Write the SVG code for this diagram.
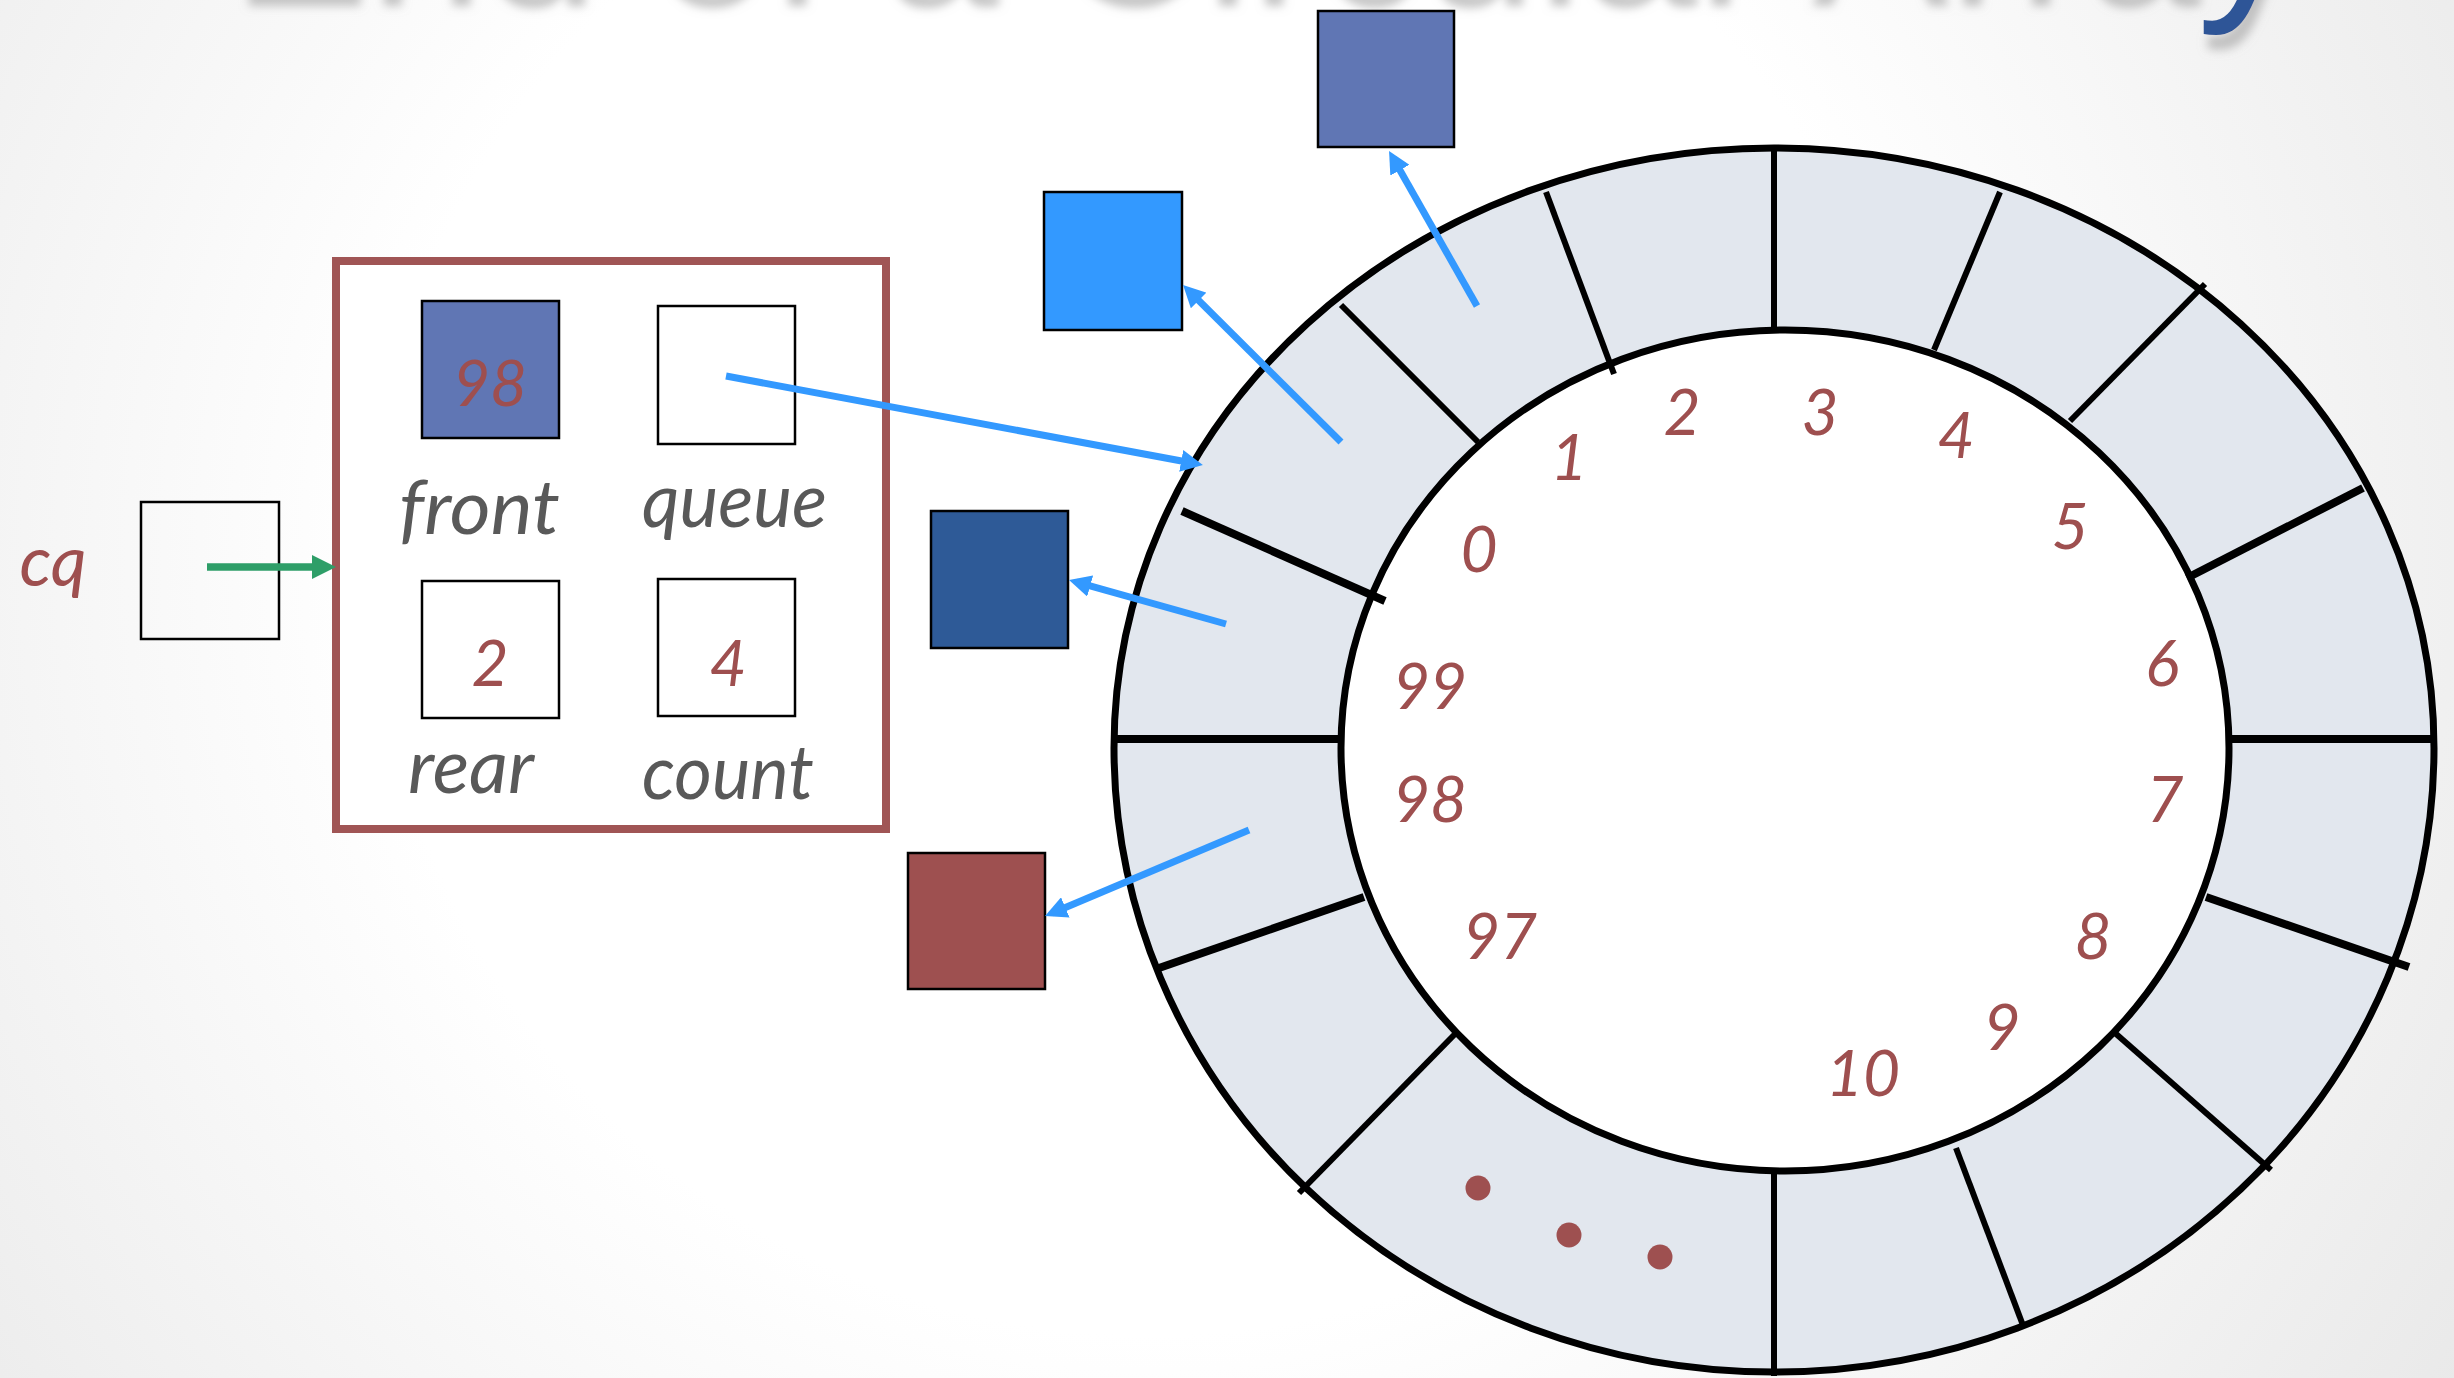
<svg xmlns="http://www.w3.org/2000/svg" width="2454" height="1378" viewBox="0 0 2454 1378">
<defs>
<radialGradient id="bg" gradientUnits="userSpaceOnUse" cx="1150" cy="560" r="1550">
<stop offset="0" stop-color="#FFFFFF"/>
<stop offset="0.5" stop-color="#FFFFFF"/>
<stop offset="1" stop-color="#E9E9E9"/>
</radialGradient>
<filter id="shadow" x="-5%" y="-50%" width="110%" height="200%">
<feGaussianBlur in="SourceAlpha" stdDeviation="5"/>
<feOffset dx="4" dy="15" result="b"/>
<feFlood flood-color="#A0A0A0" flood-opacity="0.6"/>
<feComposite in2="b" operator="in" result="s"/>
<feMerge><feMergeNode in="s"/><feMergeNode in="SourceGraphic"/></feMerge>
</filter>
<marker id="blueHead" markerUnits="userSpaceOnUse" viewBox="0 0 22 22" refX="14" refY="11" markerWidth="22" markerHeight="22" orient="auto">
<path d="M0,0 L22,11 L0,22 Z" fill="#3399FF"/>
</marker>
<marker id="greenHead" markerUnits="userSpaceOnUse" viewBox="0 0 24 24" refX="16" refY="12" markerWidth="24" markerHeight="24" orient="auto">
<path d="M0,0 L24,12 L0,24 Z" fill="#2E9E68"/>
</marker>
</defs>
<style>
.title{font-family:"Liberation Sans","DejaVu Sans",sans-serif;font-size:210px;fill:#2F5597}
.num{font-family:Lato,"Liberation Sans",sans-serif;font-style:italic;font-size:64px;fill:#9E4F4F;text-anchor:middle}
.lbl{font-family:Lato,"Liberation Sans",sans-serif;font-style:italic;font-size:76px;fill:#595959}
.box{stroke:#000;stroke-width:2.5}
.spoke{stroke:#000;stroke-width:6;fill:none}
.thick{stroke-width:8}
.blue{stroke:#3399FF;stroke-width:7;fill:none;marker-end:url(#blueHead)}
.dot{fill:#9E5050}
</style>
<rect width="2454" height="1378" fill="url(#bg)"/>
<text class="title" x="228" y="-9" textLength="2072" lengthAdjust="spacingAndGlyphs" filter="url(#shadow)">End of a Circular Array</text>

<g id="ring">
<path d="M1114,748 A660,600 0 0 1 1774,148 A660,600 0 0 1 2434,748 A660,624 0 0 1 1774,1372 A660,624 0 0 1 1114,748 Z" fill="#E2E7EE" stroke="#000" stroke-width="7"/>
<path d="M1341,748 A444,418 0 0 1 1785,330 A444,418 0 0 1 2229,748 A444,423 0 0 1 1785,1171 A444,423 0 0 1 1341,748 Z" fill="#FFFFFF" stroke="#000" stroke-width="7"/>
<line class="spoke" x1="1774" y1="150" x2="1774" y2="328"/>
<line class="spoke" x1="1546" y1="192" x2="1614" y2="374"/>
<line class="spoke" x1="1341" y1="305" x2="1478" y2="442"/>
<line class="spoke thick" x1="1182" y1="511" x2="1385" y2="601"/>
<line class="spoke thick" x1="1116" y1="739" x2="1341" y2="739"/>
<line class="spoke thick" x1="2229" y1="739" x2="2432" y2="739"/>
<line class="spoke" x1="2000" y1="192" x2="1934" y2="350"/>
<line class="spoke" x1="2205" y1="284" x2="2070" y2="421"/>
<line class="spoke thick" x1="2363" y1="488" x2="2187" y2="578"/>
<line class="spoke thick" x1="1364" y1="897" x2="1159" y2="968"/>
<line class="spoke" x1="1455" y1="1034" x2="1299" y2="1193"/>
<line class="spoke" x1="1774" y1="1171" x2="1774" y2="1376"/>
<line class="spoke" x1="1956" y1="1148" x2="2024" y2="1328"/>
<line class="spoke" x1="2115" y1="1033" x2="2271" y2="1170"/>
<line class="spoke thick" x1="2206" y1="897" x2="2409" y2="967"/>
<circle class="dot" cx="1478" cy="1188" r="12.5"/>
<circle class="dot" cx="1569" cy="1235" r="12.5"/>
<circle class="dot" cx="1660" cy="1257" r="12.5"/>
<text class="num" x="1479" y="572">0</text>
<text class="num" x="1569" y="480">1</text>
<text class="num" x="1682" y="435">2</text>
<text class="num" x="1820" y="435">3</text>
<text class="num" x="1956" y="458">4</text>
<text class="num" x="2070" y="549">5</text>
<text class="num" x="2162" y="686">6</text>
<text class="num" x="2165" y="822">7</text>
<text class="num" x="2093" y="959">8</text>
<text class="num" x="2002" y="1050">9</text>
<text class="num" x="1863" y="1096">10</text>
<text class="num" x="1500" y="959">97</text>
<text class="num" x="1430" y="822">98</text>
<text class="num" x="1430" y="709">99</text>
</g>

<g id="cq">
<text class="num" x="53" y="586" style="font-size:70px">cq</text>
<rect class="box" x="141" y="502" width="138" height="137" fill="none"/>
</g>

<g id="struct">
<rect x="336" y="261" width="550" height="568" fill="#FFFFFF" stroke="#A05555" stroke-width="8"/>
<rect class="box" x="422" y="301" width="137" height="137" fill="#6076B4"/>
<text class="num" x="490" y="406">98</text>
<text class="lbl" x="399" y="534" textLength="161" lengthAdjust="spacingAndGlyphs">front</text>
<rect class="box" x="658" y="306" width="137" height="138" fill="#FFFFFF"/>
<text class="lbl" x="642" y="527" textLength="185" lengthAdjust="spacingAndGlyphs">queue</text>
<rect class="box" x="422" y="581" width="137" height="137" fill="#FFFFFF"/>
<text class="num" x="490" y="686">2</text>
<text class="lbl" x="408" y="793" textLength="126" lengthAdjust="spacingAndGlyphs">rear</text>
<rect class="box" x="658" y="579" width="137" height="137" fill="#FFFFFF"/>
<text class="num" x="728" y="686">4</text>
<text class="lbl" x="642" y="799" textLength="172" lengthAdjust="spacingAndGlyphs">count</text>
</g>

<g id="item-top"><rect class="box" x="1318" y="11" width="136" height="136" fill="#6076B4"/></g>
<g id="item-bright"><rect class="box" x="1044" y="192" width="138" height="138" fill="#3399FF"/></g>
<g id="item-dark"><rect class="box" x="931" y="511" width="137" height="137" fill="#2E5A97"/></g>
<g id="item-red"><rect class="box" x="908" y="853" width="137" height="136" fill="#9E5050"/></g>

<g id="connectors">
<line x1="207" y1="567" x2="328" y2="567" stroke="#2E9E68" stroke-width="7.5" marker-end="url(#greenHead)"/>
<line class="blue" x1="726" y1="376" x2="1195" y2="463.5"/>
<line class="blue" x1="1477" y1="306" x2="1393" y2="158"/>
<line class="blue" x1="1341" y1="442" x2="1188.7" y2="290.6"/>
<line class="blue" x1="1226" y1="624" x2="1076.7" y2="582.2"/>
<line class="blue" x1="1249" y1="830" x2="1052.4" y2="912.9"/>
</g>
</svg>
